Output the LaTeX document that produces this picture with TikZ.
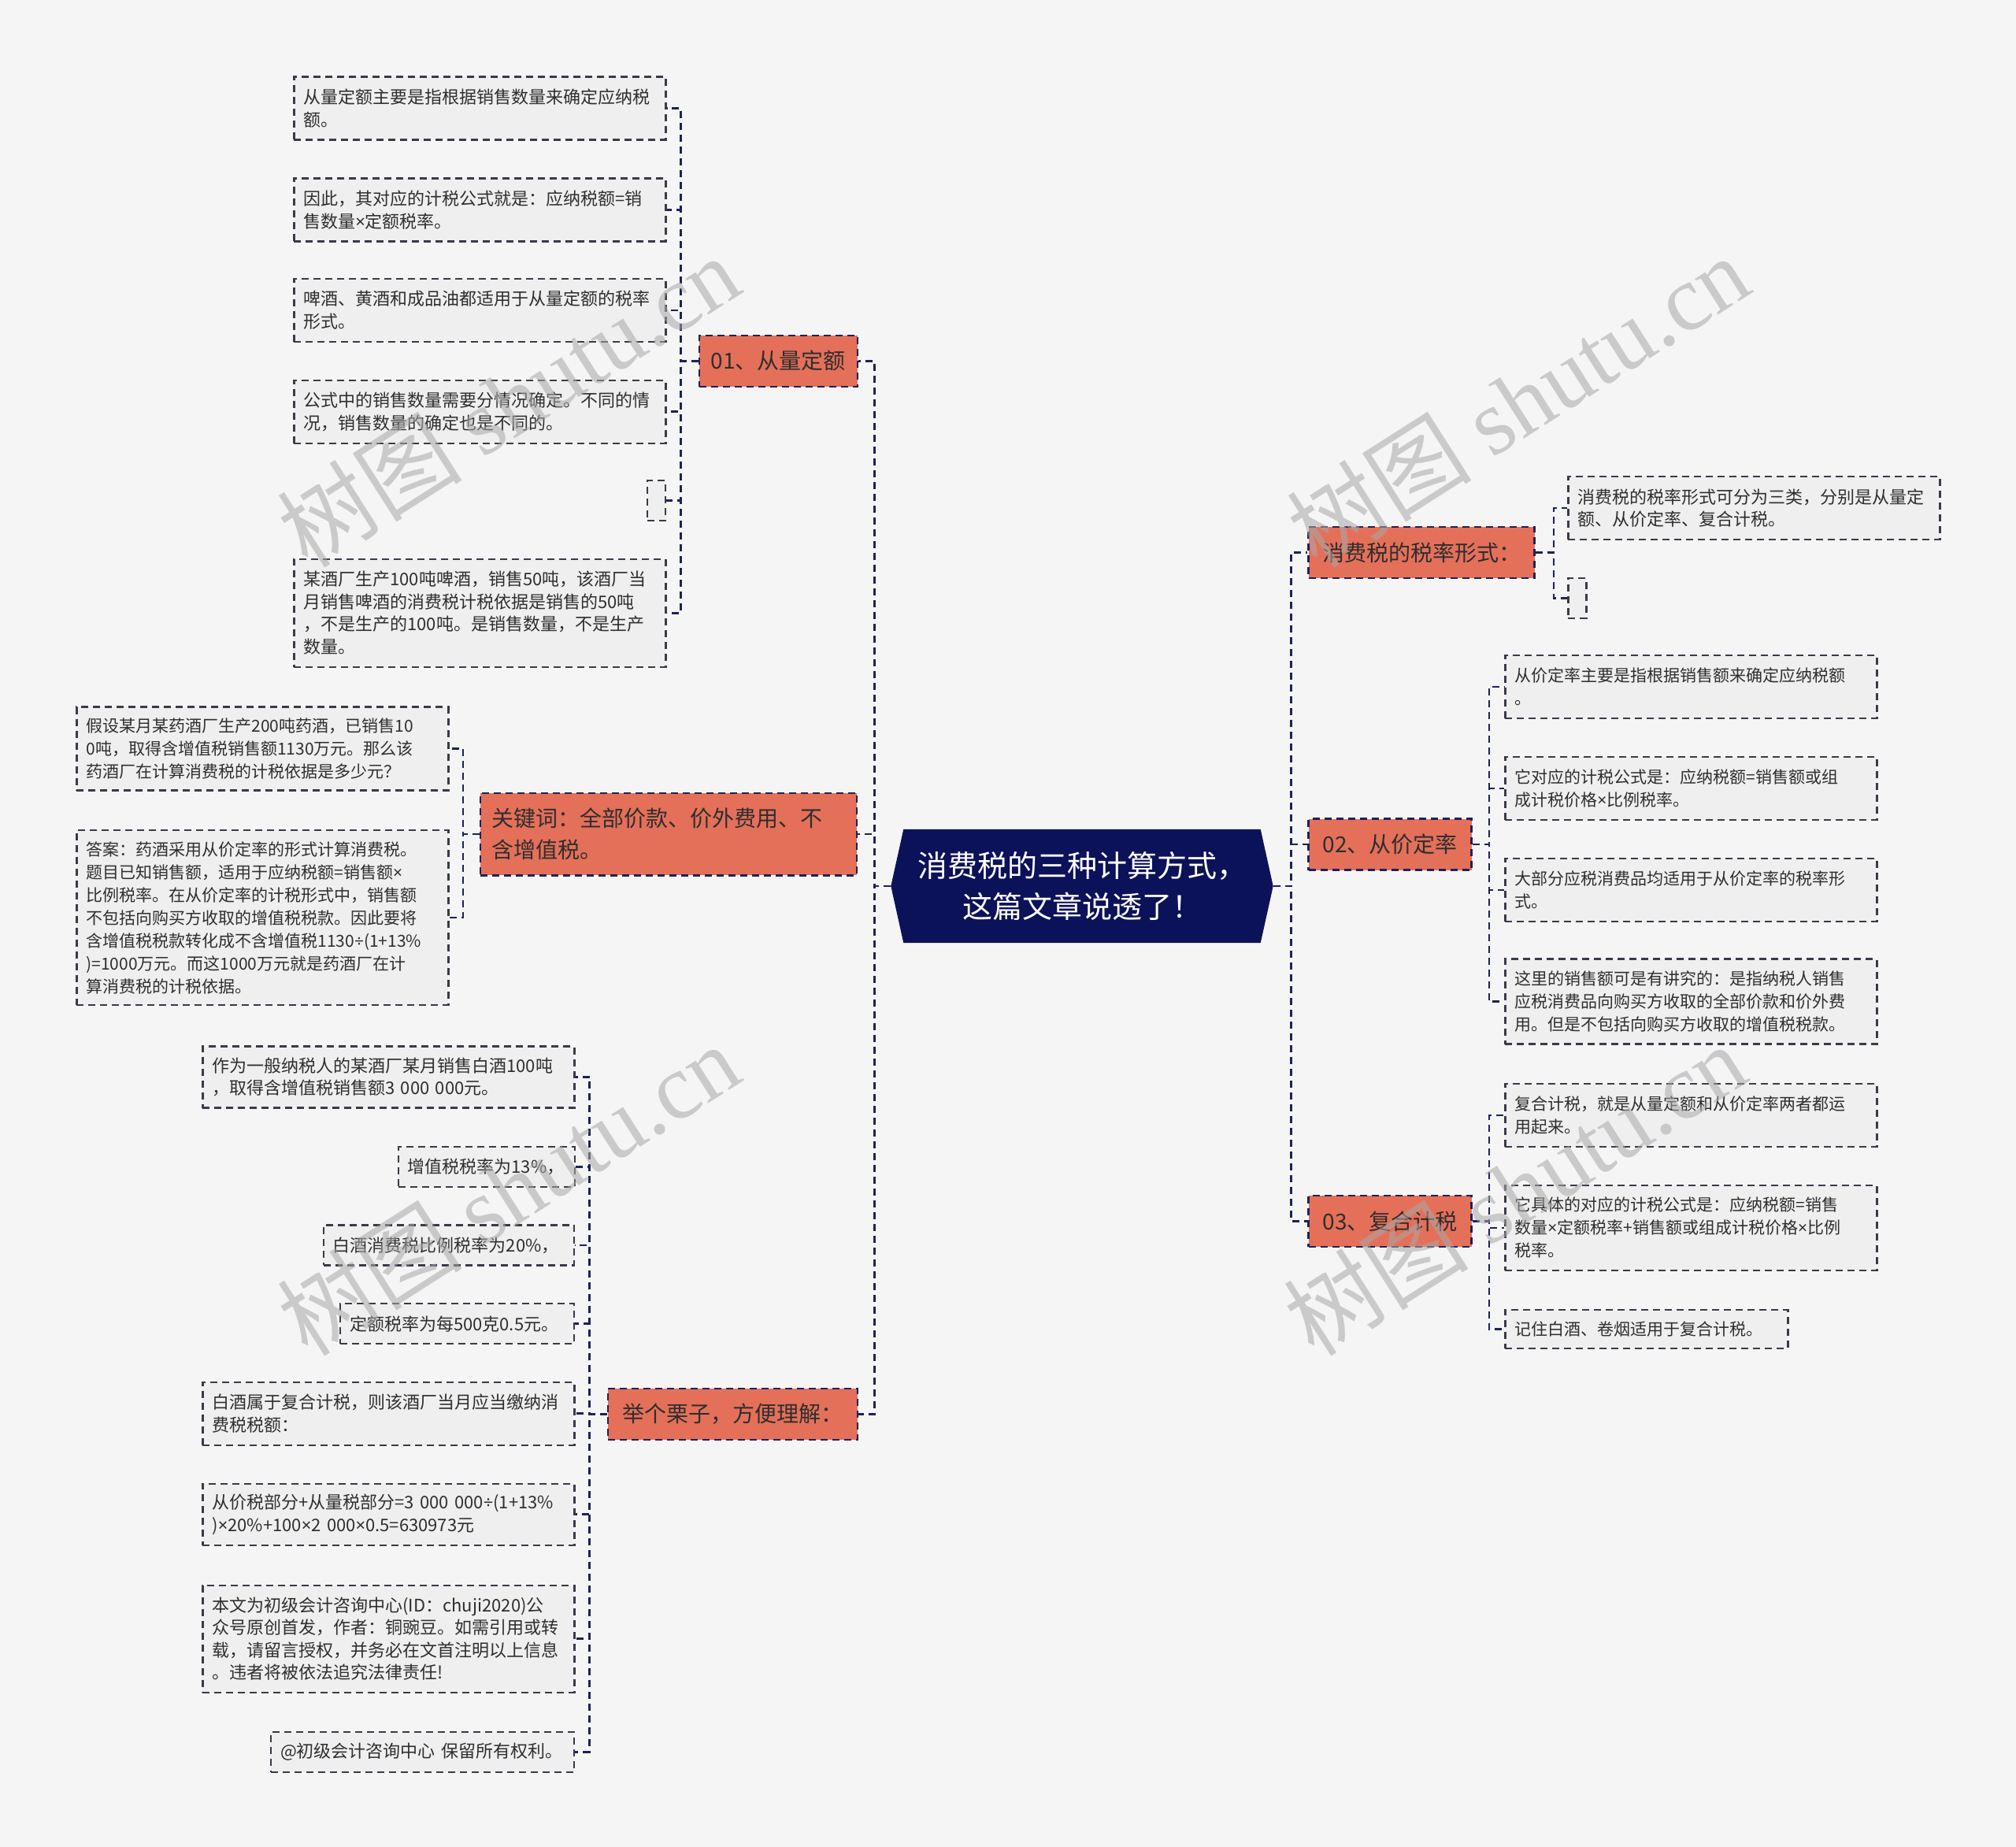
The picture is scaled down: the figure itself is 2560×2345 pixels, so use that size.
\documentclass[tikz,border=0pt]{standalone}
\usepackage{fontspec}
\setmainfont{Noto Sans CJK SC}
\newfontfamily\wmlatin{Liberation Serif}
\newfontfamily\latsym{Noto Sans}
\newcommand\tms{{\latsym ×}}
\newcommand\dvs{{\latsym ÷}}
\usetikzlibrary{backgrounds}
\definecolor{bgc}{HTML}{F5F5F5}
\definecolor{leafc}{HTML}{EFEFEF}
\definecolor{leafline}{HTML}{3A3A48}
\definecolor{connc}{HTML}{1E2257}
\definecolor{redc}{HTML}{E4705A}
\definecolor{rootc}{HTML}{0C1259}
\definecolor{txtc}{HTML}{2E2E2E}
\definecolor{wmc}{HTML}{A8A8A8}
\begin{document}
\begin{tikzpicture}[x=1pt,y=-1pt,
 leaf/.style={draw=leafline, fill=leafc, line width=2.2pt, dash pattern=on 9pt off 6pt, anchor=north west, inner xsep=12pt, inner ysep=0pt, align=left, text=txtc, font=\fontsize{22}{28.5}\selectfont},
 leafk/.style={leaf, font=\fontsize{21}{29}\selectfont},
 emptyleaf/.style={draw=leafline, fill=leafc, line width=2.2pt, dash pattern=on 9pt off 6pt, anchor=north west, inner sep=0pt, minimum width=23, minimum height=51},
 branch/.style={draw=connc, fill=redc, line width=2.4pt, dash pattern=on 9pt off 6pt, anchor=north west, inner sep=0pt, align=center, text=txtc, font=\fontsize{28}{40}\selectfont, minimum height=65},
 conn/.style={draw=connc, line width=2.6pt, dash pattern=on 9pt off 6pt},
 rootnode/.style={inner sep=0pt, minimum width=485, minimum height=144, align=center, text=white, font=\fontsize{38}{52}\selectfont},
 wm/.style={text=wmc, opacity=0.55, font=\fontsize{118}{118}\selectfont, inner sep=0pt}
 ]
\useasboundingbox (0,0) rectangle (2560,2345);
\begin{scope}[on background layer]
\fill[bgc] (0,0) rectangle (2560,2345);
\end{scope}

% root
\node[rootnode] (root) at (1374,1125) {消费税的三种计算方式，\\这篇文章说透了！};

% branches
\node[branch, minimum width=201] (b01) at (886.5,424.5) {01、从量定额};
\node[branch, minimum width=478, minimum height=104.5, text width=450pt, align=left] (bkw) at (609,1005.7) {关键词：全部价款、价外费用、不\\含增值税。};
\node[branch, minimum width=317] (bex) at (770.6,1761.7) {举个栗子，方便理解：};
\node[branch, minimum width=287] (bR1) at (1660.4,667.8) {消费税的税率形式：};
\node[branch, minimum width=207] (b02) at (1660.4,1038.4) {02、从价定率};
\node[branch, minimum width=207] (b03) at (1660.4,1516.8) {03、复合计税};

% leaves of 01
\node[leaf, text width=448pt, minimum height=80] (l01a) at (372.3,96.3) {从量定额主要是指根据销售数量来确定应纳税\\额。};
\node[leaf, text width=448pt, minimum height=80] (l01b) at (372.3,225.3) {因此，其对应的计税公式就是：应纳税额=销\\售数量\tms 定额税率。};
\node[leaf, text width=448pt, minimum height=80] (l01c) at (372.3,352.7) {啤酒、黄酒和成品油都适用于从量定额的税率\\形式。};
\node[leaf, text width=448pt, minimum height=80] (l01d) at (372.3,481.6) {公式中的销售数量需要分情况确定。不同的情\\况，销售数量的确定也是不同的。};
\node[emptyleaf] (l01e) at (821.2,609) {};
\node[leaf, text width=448pt, minimum height=137] (l01f) at (372.3,708.6) {某酒厂生产100吨啤酒，销售50吨，该酒厂当\\月销售啤酒的消费税计税依据是销售的50吨\\，不是生产的100吨。是销售数量，不是生产\\数量。};

% leaves of keyword
\node[leafk, text width=448pt, minimum height=106] (lka) at (96.3,896.4) {假设某月某药酒厂生产200吨药酒，已销售10\\0吨，取得含增值税销售额1130万元。那么该\\药酒厂在计算消费税的计税依据是多少元？};
\node[leafk, text width=448pt, minimum height=222] (lkb) at (96.3,1053) {答案：药酒采用从价定率的形式计算消费税。\\题目已知销售额，适用于应纳税额=销售额\tms\\比例税率。在从价定率的计税形式中，销售额\\不包括向购买方收取的增值税税款。因此要将\\含增值税税款转化成不含增值税1130\dvs(1+13\%\\)=1000万元。而这1000万元就是药酒厂在计\\算消费税的计税依据。};

% leaves of example
\node[leaf, text width=448pt, minimum height=78] (lea) at (256.3,1327.4) {作为一般纳税人的某酒厂某月销售白酒100吨\\，取得含增值税销售额3~000~000元。};
\node[leaf, text width=200pt, minimum height=51] (leb) at (504.5,1454.7) {增值税税率为13\%，};
\node[leaf, text width=294pt, minimum height=51] (lec) at (409.8,1554.3) {白酒消费税比例税率为20\%，};
\node[leaf, text width=273pt, minimum height=51] (led) at (431,1654) {定额税率为每500克0.5元。};
\node[leaf, text width=448pt, minimum height=80] (lee) at (256.3,1753.5) {白酒属于复合计税，则该酒厂当月应当缴纳消\\费税税额：};
\node[leaf, text width=448pt, minimum height=78] (lef) at (256.3,1882.5) {从价税部分+从量税部分=3~000~000\dvs(1+13\%\\)\tms 20\%+100\tms 2~000\tms 0.5=630973元};
\node[leaf, text width=448pt, minimum height=136] (leg) at (256.3,2011.5) {本文为初级会计咨询中心(ID：chuji2020)公\\众号原创首发，作者：铜豌豆。如需引用或转\\载，请留言授权，并务必在文首注明以上信息\\。违者将被依法追究法律责任!};
\node[leaf, text width=361pt, minimum height=51] (leh) at (342.9,2197.6) {@初级会计咨询中心~保留所有权利。};

% leaves of right branch 1
\node[leaf, text width=448pt, minimum height=80] (lra) at (1990.3,604) {消费税的税率形式可分为三类，分别是从量定\\额、从价定率、复合计税。};
\node[emptyleaf] (lrb) at (1990.3,733) {};

% leaves of 02
\node[leafk, text width=448pt, minimum height=80] (l02a) at (1910.3,831) {从价定率主要是指根据销售额来确定应纳税额\\。};
\node[leafk, text width=448pt, minimum height=80] (l02b) at (1910.3,960) {它对应的计税公式是：应纳税额=销售额或组\\成计税价格\tms 比例税率。};
\node[leafk, text width=448pt, minimum height=80] (l02c) at (1910.3,1089) {大部分应税消费品均适用于从价定率的税率形\\式。};
\node[leafk, text width=448pt, minimum height=108] (l02d) at (1910.3,1216.4) {这里的销售额可是有讲究的：是指纳税人销售\\应税消费品向购买方收取的全部价款和价外费\\用。但是不包括向购买方收取的增值税税款。};

% leaves of 03
\node[leafk, text width=448pt, minimum height=80] (l03a) at (1910.3,1374.7) {复合计税，就是从量定额和从价定率两者都运\\用起来。};
\node[leafk, text width=448pt, minimum height=108] (l03b) at (1910.3,1503.7) {它具体的对应的计税公式是：应纳税额=销售\\数量\tms 定额税率+销售额或组成计税价格\tms 比例\\税率。};
\node[leafk, text width=335pt, minimum height=49] (l03c) at (1910.3,1662) {记住白酒、卷烟适用于复合计税。};

% connectors and root shape
\begin{scope}[on background layer]
\fill[rootc] (root.west) -- ([xshift=16pt]root.north west) -- ([xshift=-16pt]root.north east) -- (root.east) -- ([xshift=-16pt]root.south east) -- ([xshift=16pt]root.south west) -- cycle;
\foreach \b in {b01,bkw,bex} \draw[conn] (root.west) -- ++(-21,0) |- (\b.east);
\foreach \b in {bR1,b02,b03} \draw[conn] (root.east) -- ++(23,0) |- (\b.west);
\foreach \c in {l01a,l01b,l01c,l01d,l01e,l01f} \draw[conn] (b01.west) -- ++(-22,0) |- (\c.east);
\foreach \c in {lka,lkb} \draw[conn] (bkw.west) -- ++(-21,0) |- (\c.east);
\foreach \c in {lea,leb,lec,led,lee,lef,leg,leh} \draw[conn] (bex.west) -- ++(-22,0) |- (\c.east);
\foreach \c in {lra,lrb} \draw[conn] (bR1.east) -- ++(23,0) |- (\c.west);
\foreach \c in {l02a,l02b,l02c,l02d} \draw[conn] (b02.east) -- ++(21,0) |- (\c.west);
\foreach \c in {l03a,l03b,l03c} \draw[conn] (b03.east) -- ++(21,0) |- (\c.west);
\end{scope}

% watermarks
\node[wm, rotate=32.5] (wm1) at (645,509) {树图 {\wmlatin shutu.cn}};
\node[wm, rotate=32.5] (wm2) at (1927,509) {树图 {\wmlatin shutu.cn}};
\node[wm, rotate=32.5] (wm3) at (645,1510) {树图 {\wmlatin shutu.cn}};
\node[wm, rotate=32.5] (wm4) at (1923,1510) {树图 {\wmlatin shutu.cn}};
\end{tikzpicture}
\end{document}
